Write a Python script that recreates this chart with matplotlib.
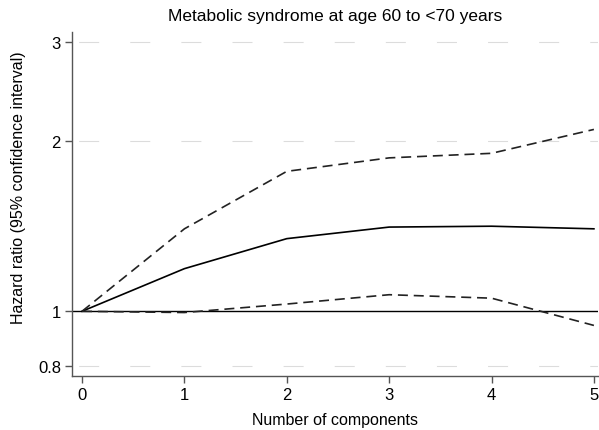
import matplotlib
matplotlib.use("Agg")
from matplotlib import pyplot as plt
from matplotlib.ticker import FixedLocator, NullLocator

components = [0, 1, 2, 3, 4, 5]
hr = [1.0, 1.19, 1.345, 1.41, 1.415, 1.40]
ci_upper = [1.0, 1.40, 1.77, 1.87, 1.905, 2.10]
ci_lower = [1.0, 0.995, 1.03, 1.07, 1.055, 0.944]
yticks = [0.8, 1, 2, 3]
ytick_labels = ["0.8", "1", "2", "3"]
grid_levels = [0.8, 2, 3]

plt.rcParams["font.family"] = ["Liberation Sans", "DejaVu Sans"]

fig = plt.figure(figsize=(5.99, 4.31), dpi=100)
ax = fig.add_axes([72 / 599, 1 - 377 / 431, (598 - 72) / 599, (377 - 33) / 431])

ax.set_yscale("log")
ax.set_xlim(-0.098, 5.04)
ax.set_ylim(0.768, 3.125)

# faint stata-style grid
for g in grid_levels:
    ax.axhline(g, color="#dcdcdc", lw=0.8, linestyle=(40, (18, 28)), zorder=1)
ax.axhline(1, color="black", lw=1.0, zorder=2)

ax.plot(components, hr, color="black", lw=1.2, zorder=3)
ax.plot(components, ci_upper, color="#222222", lw=1.2, linestyle=(0, (6, 3.5)), zorder=3)
ax.plot(components, ci_lower, color="#222222", lw=1.2, linestyle=(0, (6, 3.5)), zorder=3)

ax.yaxis.set_major_locator(FixedLocator(yticks))
ax.set_yticklabels(ytick_labels)
ax.yaxis.set_minor_locator(NullLocator())
ax.set_xticks(components)

for s in ["top", "right"]:
    ax.spines[s].set_visible(False)
for s in ["left", "bottom"]:
    ax.spines[s].set_color("#555555")
    ax.spines[s].set_linewidth(1.0)
ax.tick_params(direction="out", length=5, width=1.0, color="#555555",
               labelsize=12, pad=3)

ax.set_title("Metabolic syndrome at age 60 to <70 years", fontsize=12.5, pad=9)
ax.set_xlabel("Number of components", fontsize=11.5)
ax.set_ylabel("Hazard ratio (95% confidence interval)", fontsize=11.5)
ax.xaxis.set_label_coords(0.5, (377 - 413) / 344)
ax.yaxis.set_label_coords((26 - 72) / 526, (377 - 188) / 344)

fig.savefig("out.png", dpi=100)
